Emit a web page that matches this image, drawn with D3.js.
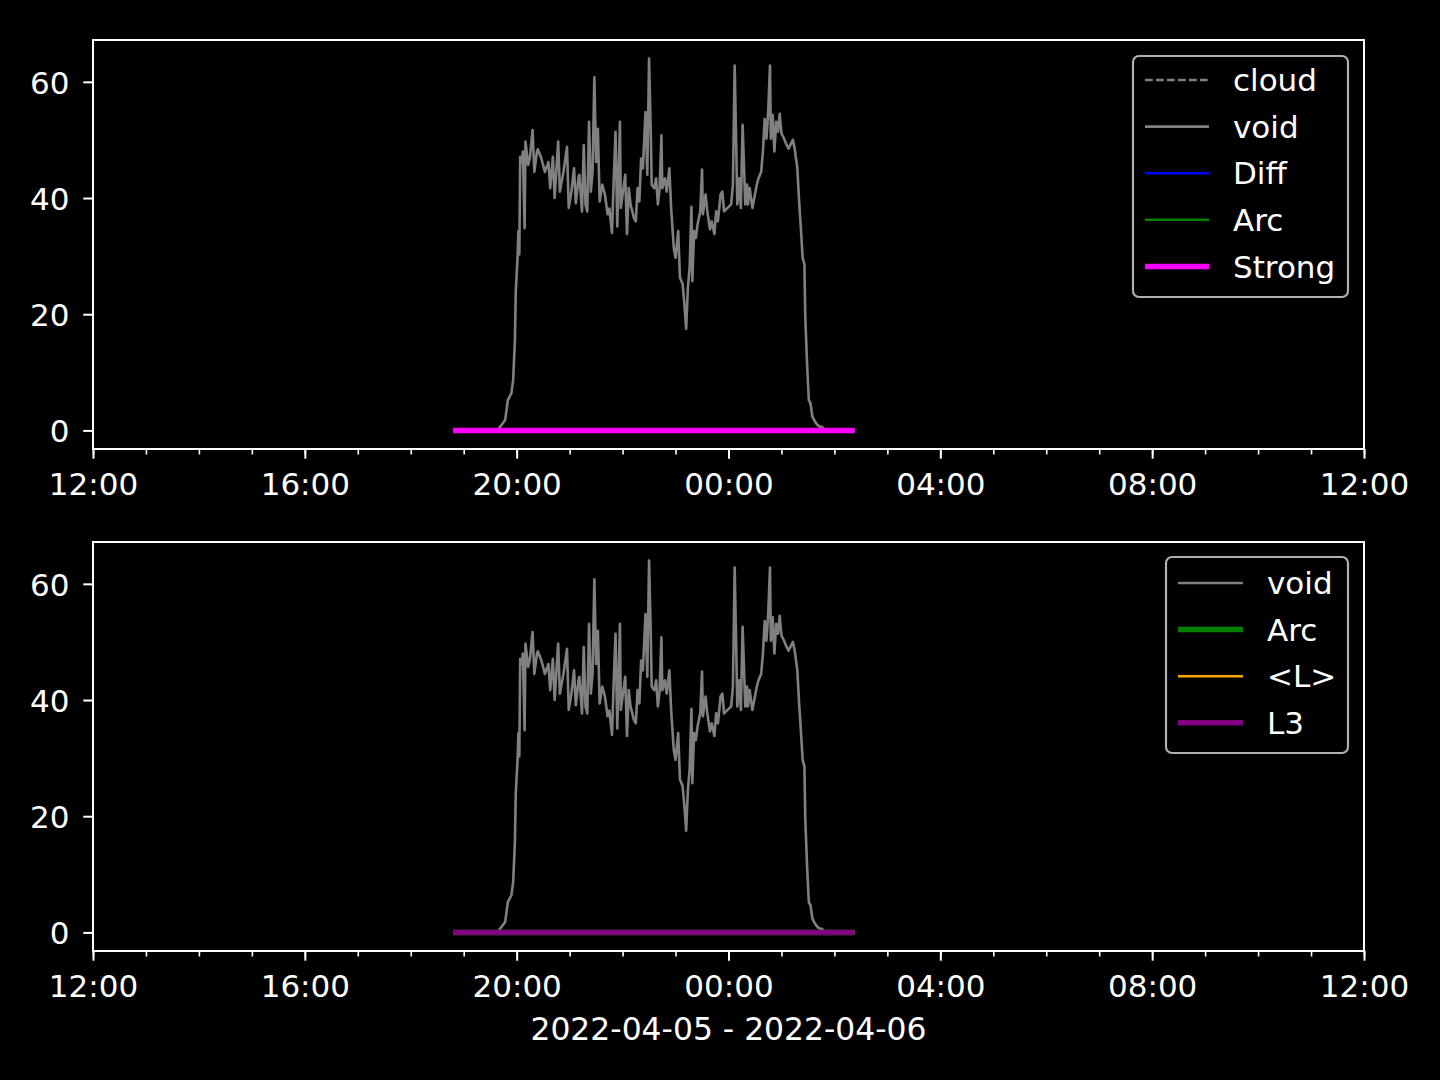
<!DOCTYPE html>
<html>
<head>
<meta charset="utf-8">
<script src="https://cdn.jsdelivr.net/npm/d3@7"></script>
<style>
  html, body { margin: 0; padding: 0; background: #000; }
  svg { display: block; }
  text { font-family: "DejaVu Sans", sans-serif; fill: #fff; }
</style>
</head>
<body>
<svg id="chart" width="1440" height="1080"></svg>
<script>
// ---------------- data ----------------
const dateLabel = "2022-04-05 - 2022-04-06";
const xTickLabels = ["12:00", "16:00", "20:00", "00:00", "04:00", "08:00", "12:00"];
const yTickValues = [0, 20, 40, 60];

// "void" series: clock time (times before 12:00 belong to 2022-04-06)
const voidTimes = [
  "18:48","19:38","19:41","19:47","19:50","19:54","19:56","19:58","19:59","20:01",
  "20:02","20:03","20:04","20:06","20:07","20:09","20:10","20:13","20:15","20:18",
  "20:20","20:23","20:24","20:28","20:32","20:36","20:38","20:41","20:43","20:47",
  "20:49","20:53","20:57","20:59","21:02","21:05","21:07","21:10","21:11","21:14",
  "21:16","21:18","21:20","21:22","21:24","21:26","21:28","21:30","21:32","21:34",
  "21:37","21:40","21:43","21:45","21:48","21:50","21:52","21:54","21:57","21:58",
  "22:01","22:03","22:05","22:07","22:09","22:11","22:13","22:15","22:17","22:19",
  "22:21","22:23","22:26","22:28","22:30","22:32","22:33","22:36","22:38","22:40",
  "22:42","22:44","22:45","22:48","22:50","22:53","22:55","22:58","23:00","23:03",
  "23:05","23:08","23:10","23:12","23:14","23:16","23:18","23:19","23:21","23:23",
  "23:25","23:28","23:30","23:31","23:34","23:36","23:39","23:41","23:44","23:46",
  "23:48","23:51","23:53","23:55","23:59","00:03","00:05","00:07","00:10","00:12",
  "00:14","00:16","00:19","00:21","00:22","00:24","00:27","00:30","00:32","00:34",
  "00:37","00:39","00:41","00:43","00:45","00:47","00:48","00:50","00:52","00:54",
  "00:56","00:58","01:00","01:03","01:05","01:08","01:10","01:13","01:15","01:18",
  "01:20","01:22","01:24","01:26","01:27","01:29","01:31","01:33","01:35","01:37",
  "01:39","01:41","01:44","01:46","01:48","01:50","02:23"
];
const voidValues = [
  0,0,0.6,1.8,5.2,6.4,8.6,15.5,24,29.7,
  34.3,30.3,47.1,46.2,48,34.8,49.7,45.7,47,51.7,
  44.5,48,48.4,46.8,44.5,46.2,41.7,47.1,40,49.7,
  41.1,44.5,48.8,38.3,41.1,45.1,39.1,43.4,44,37.7,
  49.1,38.9,37.7,53.1,41.1,44.5,60.8,46.2,51.9,39.4,
  42.3,40.6,37.2,38.2,34,43.4,51.4,35.1,53.1,38.3,
  41.7,44,33.8,41.7,38.9,37.7,36.5,36,41.7,39.4,
  46.8,45.1,54.8,44,64,50.8,42.3,41.7,43.4,38.9,
  41.7,50.8,41.7,43.4,41.1,45.1,38.3,31.4,29.7,34.3,
  26.3,25.2,21.8,17.5,24.6,28,38.5,25.7,34.3,33.1,
  35.5,37.7,44.9,37.2,40.6,37.7,34.6,36,33.8,37.7,
  36,40.6,41.1,37.7,38.3,38.9,42.3,62.8,38.9,43.4,
  38.3,52.6,38.9,42.3,38.9,41.7,38.3,40.6,42.3,43.4,
  44.5,48,53.6,50.2,55,62.8,50.2,54.3,48,53.1,
  51.4,54.5,51.1,50.2,49.4,48.5,49.1,50,48.5,45.1,
  39.4,34.8,29.7,28.6,19.5,11.5,5.2,4.6,2.4,1.8,
  1.3,0.9,0.6,0.6,0.3,0,0
];
// flat series (all at zero over the observation window)
const flatTimes = ["18:48", "02:23"];
const cloudValues  = [0, 0];
const diffValues   = [0, 0];
const arcValues    = [0, 0];
const strongValues = [0, 0];
const lMeanValues  = [0, 0];
const l3Values     = [0, 0];

// ---------------- helpers ----------------
const parse = d3.timeParse("%Y-%m-%d %H:%M");
function toDate(t) {
  const h = +t.slice(0, 2);
  return parse((h < 12 ? "2022-04-06 " : "2022-04-05 ") + t);
}
function series(times, values) {
  return times.map((t, i) => ({ t: toDate(t), v: values[i] }));
}
const voidData = series(voidTimes, voidValues);

const svg = d3.select("#chart");
svg.append("rect").attr("width", 1440).attr("height", 1080).attr("fill", "#000");

const x = d3.scaleTime()
  .domain([parse("2022-04-05 12:00"), parse("2022-04-06 12:00")])
  .range([93, 1364]);

const FS_TICK = 31;
const FS_LEG = 31;

function drawPanel(top, bottom, lines, legendItems, legendBox) {
  const y = d3.scaleLinear().domain([-3.2, 67.2]).range([bottom, top]);
  const g = svg.append("g");

  // lines
  const clipId = "clip" + top;
  svg.append("clipPath").attr("id", clipId)
    .append("rect").attr("x", 93).attr("y", top).attr("width", 1364 - 93).attr("height", bottom - top);
  const lineGen = d3.line().x(d => x(d.t)).y(d => y(d.v));
  const lg = g.append("g").attr("clip-path", `url(#${clipId})`);
  lines.forEach(s => {
    lg.append("path")
      .datum(s.data)
      .attr("fill", "none")
      .attr("stroke", s.color)
      .attr("stroke-width", s.width)
      .attr("stroke-dasharray", s.dash || null)
      .attr("stroke-linejoin", "round")
      .attr("d", lineGen);
  });

  // x axis: minor ticks
  g.append("g").attr("transform", `translate(0,${bottom})`)
    .call(d3.axisBottom(x).ticks(d3.timeHour.every(1)).tickSize(5.5).tickFormat(""))
    .call(a => a.select(".domain").remove())
    .call(a => a.selectAll("line").attr("stroke", "#fff").attr("stroke-width", 1.6));
  // x axis: major ticks
  const xa = g.append("g").attr("transform", `translate(0,${bottom})`)
    .call(d3.axisBottom(x).ticks(d3.timeHour.every(4)).tickSize(9.7).tickFormat((d, i) => xTickLabels[i]));
  xa.select(".domain").remove();
  xa.selectAll("line").attr("stroke", "#fff").attr("stroke-width", 2);
  xa.selectAll("text").attr("font-size", FS_TICK).attr("fill", "#fff")
    .attr("font-family", "DejaVu Sans").attr("y", 45.5).attr("dy", null);

  // y axis
  const ya = g.append("g").attr("transform", `translate(93,0)`)
    .call(d3.axisLeft(y).tickValues(yTickValues).tickSize(9.7).tickFormat(d3.format("d")));
  ya.select(".domain").remove();
  ya.selectAll("line").attr("stroke", "#fff").attr("stroke-width", 2);
  ya.selectAll("text").attr("font-size", FS_TICK).attr("fill", "#fff")
    .attr("font-family", "DejaVu Sans").attr("x", -23.5).attr("dy", "0.36em");

  // spines
  g.append("rect").attr("x", 93).attr("y", top).attr("width", 1364 - 93).attr("height", bottom - top)
    .attr("fill", "none").attr("stroke", "#fff").attr("stroke-width", 2);

  // legend
  const L = g.append("g");
  L.append("rect").attr("x", legendBox.x).attr("y", legendBox.y)
    .attr("width", legendBox.w).attr("height", legendBox.h)
    .attr("rx", 6).attr("ry", 6)
    .attr("fill", "#000").attr("stroke", "#b0b0b0").attr("stroke-width", 2.2);
  legendItems.forEach((it, i) => {
    const cy = legendBox.row0 + i * 46.6;
    L.append("line")
      .attr("x1", legendBox.hx0).attr("x2", legendBox.hx1)
      .attr("y1", cy).attr("y2", cy)
      .attr("stroke", it.color).attr("stroke-width", it.width)
      .attr("stroke-dasharray", it.dash || null);
    L.append("text").attr("x", legendBox.tx).attr("y", cy).attr("dy", "0.36em")
      .attr("font-size", FS_LEG).text(it.label);
  });
}

const GRAY = "#808080";
const topLines = [
  { data: series(flatTimes, cloudValues), color: GRAY, width: 2.6, dash: "7.7,3.3", label: "cloud" },
  { data: voidData, color: GRAY, width: 2.6, label: "void" },
  { data: series(flatTimes, diffValues), color: "#0000ff", width: 2.6, label: "Diff" },
  { data: series(flatTimes, arcValues), color: "#008000", width: 2.6, label: "Arc" },
  { data: series(flatTimes, strongValues), color: "#ff00ff", width: 5.5, label: "Strong" }
];
drawPanel(40, 449, topLines, topLines,
  { x: 1133, y: 56, w: 215, h: 241, row0: 80, hx0: 1145, hx1: 1209, tx: 1233 });

const botLines = [
  { data: voidData, color: GRAY, width: 2.6, label: "void" },
  { data: series(flatTimes, arcValues), color: "#008000", width: 5.5, label: "Arc" },
  { data: series(flatTimes, lMeanValues), color: "#ffa500", width: 2.6, label: "<L>" },
  { data: series(flatTimes, l3Values), color: "#800080", width: 5.5, label: "L3" }
];
drawPanel(542, 951, botLines, botLines,
  { x: 1166, y: 557, w: 182, h: 196, row0: 583, hx0: 1178, hx1: 1243, tx: 1267 });

svg.append("text").attr("x", 728.5).attr("y", 1040).attr("text-anchor", "middle")
  .attr("font-size", 31.4).text(dateLabel);
</script>
</body>
</html>
